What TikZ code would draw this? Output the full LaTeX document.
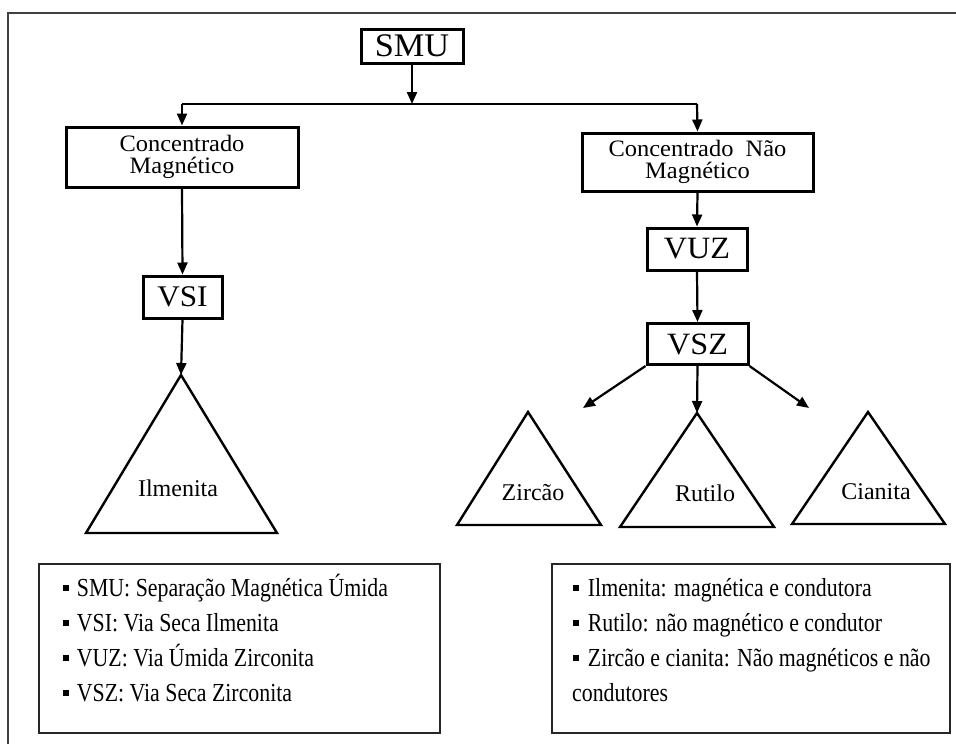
\documentclass[tikz,border=0pt]{standalone}
\usepackage{fontspec}
\setmainfont{Liberation Serif}
\newfontfamily\legfont{Liberation Serif}[FakeStretch=0.84]
\newfontfamily\boxfont{Liberation Serif}[FakeStretch=1.04]
\usetikzlibrary{arrows.meta}
\newcommand\sqb{\rule[0.19em]{0.22em}{0.22em}}
\tikzset{
  box/.style={draw=black, line width=3pt, inner sep=0pt, align=center},
  arr/.style={line width=2.2pt, -{Triangle[length=12pt,width=10pt]}},
  tri/.style={draw=black, line width=2.4pt, line join=miter},
  lbl/.style={inner sep=0pt, font=\fontsize{24}{26}\selectfont},
  leg/.style={anchor=base west, inner sep=0pt, font=\legfont\fontsize{26}{30}\selectfont},
  legbox/.style={draw=black!85, line width=2pt}
}
\begin{document}
\begin{tikzpicture}[x=1pt,y=-1pt]
\useasboundingbox (0,0) rectangle (956,744);
% outer frame
\draw[black!75, line width=2pt] (8,744) -- (8,13) -- (956,13);

% boxes
\node[box, minimum width=102pt, minimum height=34pt, font=\boxfont\fontsize{33}{34}\selectfont] (smu) at (412,46) {SMU};
\node[box, minimum width=232pt, minimum height=60pt, font=\boxfont\fontsize{23.5}{22.5}\selectfont] (cm) at (182,157) {Concentrado\\Magnético};
\node[box, minimum width=231pt, minimum height=58pt, font=\boxfont\fontsize{23.5}{22.5}\selectfont] (cnm) at (697.5,162) {Concentrado\ \ Não\\Magnético};
\node[box, minimum width=79pt, minimum height=42pt, font=\boxfont\fontsize{30}{32}\selectfont] (vsi) at (182.5,297) {VSI};
\node[box, minimum width=100pt, minimum height=42pt, font=\boxfont\fontsize{31}{32}\selectfont] (vuz) at (697,249) {VUZ};
\node[box, minimum width=101pt, minimum height=41pt, font=\boxfont\fontsize{31}{32}\selectfont] (vsz) at (697.5,344) {VSZ};

% junction
\coordinate (j) at (412,104);
\coordinate (jl) at (182,104);
\coordinate (jr) at (697,104);
\draw[line width=2.2pt] (jl) -- (jr);
\draw[arr] (smu.south) -- (j);
\draw[arr] (jl) -- (cm.north);
\draw[arr] (jr) -- (cnm.north);
\draw[arr] (cm.south) -- (vsi.north);
\draw[arr] (cnm.south) -- (vuz.north);
\draw[arr] (vuz.south) -- (vsz.north);

% triangles
\coordinate (ilm) at (181,375);
\draw[tri] (ilm) -- (277,533) -- (86,533) -- cycle;
\node[lbl] (ilmt) at (178,488) {Ilmenita};
\coordinate (zir) at (528,412);
\draw[tri] (zir) -- (601,525) -- (457,525) -- cycle;
\node[lbl] (zirt) at (533,493) {Zircão};
\coordinate (rut) at (697,413);
\draw[tri] (rut) -- (774,527) -- (620,527) -- cycle;
\node[lbl] (rutt) at (705,493) {Rutilo};
\coordinate (cia) at (868,412);
\draw[tri] (cia) -- (945,524) -- (792,524) -- cycle;
\node[lbl] (ciat) at (876,492) {Cianita};

\draw[arr] (vsi.south) -- (ilm);
\coordinate (zl) at (583,408);
\coordinate (cr) at (809,408);
\draw[arr] (vsz.south west) -- (zl);
\draw[arr] (vsz.south) -- (rut);
\draw[arr] (vsz.south east) -- (cr);

% legends
\draw[legbox] (39,564) rectangle (440,733);
\node[leg] (l1) at (63,596) {\sqb\hspace{8pt}SMU: Separação Magnética Úmida};
\node[leg] (l2) at (63,631) {\sqb\hspace{8pt}VSI: Via Seca Ilmenita};
\node[leg] (l3) at (63,666) {\sqb\hspace{8pt}VUZ: Via Úmida Zirconita};
\node[leg] (l4) at (63,701) {\sqb\hspace{8pt}VSZ: Via Seca Zirconita};

\draw[legbox] (552,564) rectangle (950,733);
\node[leg] (r1) at (573,596) {\sqb\hspace{9pt}Ilmenita: magnética e condutora};
\node[leg] (r2) at (573,631) {\sqb\hspace{9pt}Rutilo: não magnético e condutor};
\node[leg] (r3) at (573,666) {\sqb\hspace{9pt}Zircão e cianita: Não magnéticos e não};
\node[leg] (r4) at (572,701) {condutores};
\end{tikzpicture}
\end{document}
